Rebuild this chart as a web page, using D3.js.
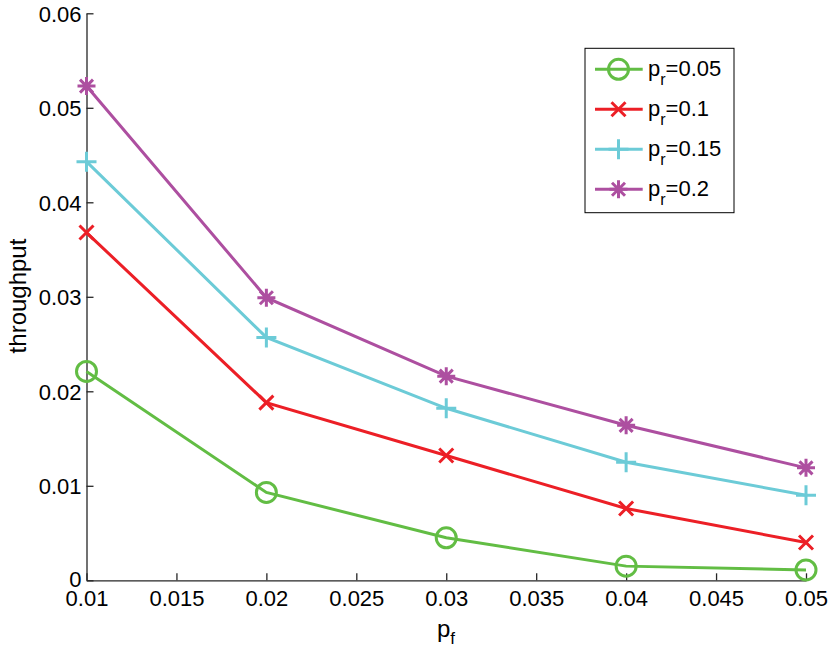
<!DOCTYPE html>
<html>
<head>
<meta charset="utf-8">
<script src="https://cdn.jsdelivr.net/npm/d3@7"></script>
<style>
  body { margin: 0; background: #fff; }
  svg { font-family: 'Liberation Sans', Arial, sans-serif; }
</style>
</head>
<body>
<svg width="831" height="650"></svg>
<script>
// Data
const pf = [0.01, 0.02, 0.03, 0.04, 0.05];
const pr005 = [0.0221, 0.0093, 0.0045, 0.0015, 0.0011];
const pr01 = [0.0368, 0.0188, 0.0132, 0.0076, 0.0040];
const pr015 = [0.0443, 0.0257, 0.0182, 0.0125, 0.0090];
const pr02 = [0.0523, 0.0299, 0.0216, 0.0164, 0.0119];
const seriesNames = ['0.05', '0.1', '0.15', '0.2'];
const xTicks = [0.01, 0.015, 0.02, 0.025, 0.03, 0.035, 0.04, 0.045, 0.05];
const yTicks = [0, 0.01, 0.02, 0.03, 0.04, 0.05, 0.06];

const series = [
  { name: seriesNames[0], values: pr005, color: '#62bd44', marker: 'circle' },
  { name: seriesNames[1], values: pr01, color: '#ec1f26', marker: 'x' },
  { name: seriesNames[2], values: pr015, color: '#6ccbd7', marker: 'plus' },
  { name: seriesNames[3], values: pr02, color: '#ad4fa0', marker: 'star' }
];

const svg = d3.select('svg');
const margin = { top: 13.3, right: 25, bottom: 69.7, left: 86.5 };
const width = 831 - margin.left - margin.right;
const height = 650 - margin.top - margin.bottom;

const g = svg.append('g')
  .attr('transform', 'translate(' + margin.left + ',' + margin.top + ')');

const x = d3.scaleLinear().domain([0.01, 0.05]).range([0, 719.5]);
const y = d3.scaleLinear().domain([0, 0.06]).range([height, 0]);

// Marker paths
function markerPath(type) {
  if (type === 'circle') {
    return 'M10,0A10,10 0 1,1 -10,0A10,10 0 1,1 10,0';
  }
  if (type === 'x') {
    return 'M-7,-7L7,7M-7,7L7,-7';
  }
  if (type === 'plus') {
    return 'M-10,0L10,0M0,-10L0,10';
  }
  // asterisk
  return 'M-9,0L9,0M0,-9L0,9M-6.5,-6.5L6.5,6.5M-6.5,6.5L6.5,-6.5';
}

// Axes
const xAxis = d3.axisBottom(x).tickValues(xTicks).tickSizeInner(-7).tickSizeOuter(0)
  .tickFormat(d3.format('~g'));
const yAxis = d3.axisLeft(y).tickValues(yTicks).tickSizeInner(-7).tickSizeOuter(0)
  .tickFormat(d => d === 0 ? '0' : d3.format('.2f')(d));

const gx = g.append('g')
  .attr('transform', 'translate(0,' + height + ')')
  .call(xAxis);
gx.selectAll('text').attr('dy', 0).attr('y', 25.5);

const gy = g.append('g').call(yAxis);
gy.selectAll('text').attr('x', -5).attr('dy', '0.36em');

[gx, gy].forEach(a => {
  a.select('.domain').attr('stroke', '#262626').attr('stroke-width', 1.3);
  a.selectAll('.tick line').attr('stroke', '#262626').attr('stroke-width', 1.3);
  a.selectAll('text').attr('font-size', 22).attr('fill', '#000')
    .attr('font-family', "'Liberation Sans', Arial, sans-serif");
});
gy.selectAll('.tick').filter(d => d === 0).select('text').attr('dy', '0.3em');

// Lines
const line = d3.line()
  .x((d, i) => x(pf[i]))
  .y(d => y(d));

series.forEach(s => {
  g.append('path')
    .datum(s.values)
    .attr('fill', 'none')
    .attr('stroke', s.color)
    .attr('stroke-width', 3)
    .attr('d', line);

  g.selectAll(null)
    .data(s.values)
    .enter()
    .append('path')
    .attr('transform', (d, i) => 'translate(' + x(pf[i]) + ',' + y(d) + ')')
    .attr('d', markerPath(s.marker))
    .attr('fill', 'none')
    .attr('stroke', s.color)
    .attr('stroke-width', 3);
});

// Axis labels
svg.append('text')
  .attr('x', 437)
  .attr('y', 637)
  .attr('font-size', 24)
  .text('p')
  .append('tspan')
  .attr('font-size', 17)
  .attr('dy', 7)
  .text('f');

svg.append('text')
  .attr('transform', 'translate(26,296) rotate(-90)')
  .attr('text-anchor', 'middle')
  .attr('font-size', 24)
  .text('throughput');

// Legend
const legend = svg.append('g').attr('transform', 'translate(585,48.3)');
legend.append('rect')
  .attr('width', 149)
  .attr('height', 164.4)
  .attr('fill', '#fff')
  .attr('stroke', '#000')
  .attr('stroke-width', 1);

const rows = legend.selectAll('.row')
  .data(series)
  .enter()
  .append('g')
  .attr('class', 'row')
  .attr('transform', (d, i) => 'translate(0,' + (21 + i * 40) + ')');

rows.append('line')
  .attr('x1', 10).attr('x2', 57.7)
  .attr('stroke', d => d.color)
  .attr('stroke-width', 3);
rows.append('path')
  .attr('transform', 'translate(33.5,0)')
  .attr('d', d => markerPath(d.marker))
  .attr('fill', 'none')
  .attr('stroke', d => d.color)
  .attr('stroke-width', 3);

const lt = rows.append('text')
  .attr('x', 63)
  .attr('y', 7)
  .attr('font-size', 22);
lt.append('tspan').text('p');
lt.append('tspan').attr('font-size', 16).attr('dy', 9).text('r');
lt.append('tspan').attr('dy', -9).text(d => '=' + d.name);
</script>
</body>
</html>
